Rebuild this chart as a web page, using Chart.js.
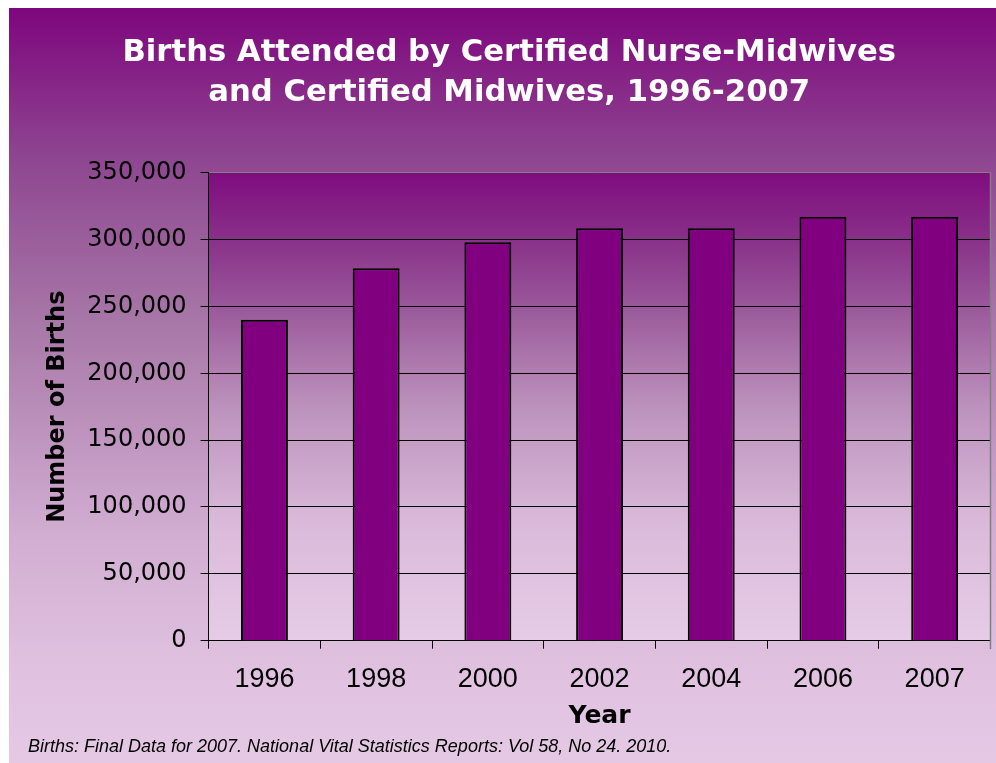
<!DOCTYPE html>
<html>
<head>
<meta charset="utf-8">
<script src="https://cdn.jsdelivr.net/npm/chart.js@4.4.1/dist/chart.umd.min.js"></script>
<style>
  html, body { margin: 0; padding: 0; background: #fff; }
  canvas { display: block; }
</style>
</head>
<body>
<canvas id="c" width="996" height="763"></canvas>
<script>
// ---- data ----
const years = ['1996', '1998', '2000', '2002', '2004', '2006', '2007'];
const births = [240000, 278500, 298000, 308500, 308500, 317000, 317000];
const titleLines = ['Births Attended by Certified Nurse-Midwives', 'and Certified Midwives, 1996-2007'];
const yAxisTitle = 'Number of Births';
const xAxisTitle = 'Year';
const sourceNote = 'Births: Final Data for 2007. National Vital Statistics Reports: Vol 58, No 24. 2010.';
const yMin = 0, yMax = 350000, yStep = 50000;

const bgPlugin = {
  id: 'bgPlugin',
  beforeDraw(chart) {
    const { ctx, width, height, chartArea: a } = chart;
    ctx.save();
    ctx.fillStyle = '#ffffff';
    ctx.fillRect(0, 0, width, height);
    const g = ctx.createLinearGradient(0, 8, 0, height);
    g.addColorStop(0, '#7e067e');
    g.addColorStop(0.2, '#8e4690');
    g.addColorStop(0.42, '#a878a8');
    g.addColorStop(0.7, '#d2aed2');
    g.addColorStop(0.88, '#e0c2e0');
    g.addColorStop(1, '#e4c8e4');
    ctx.fillStyle = g;
    ctx.fillRect(9, 8, width - 9, height - 8);
    const g2 = ctx.createLinearGradient(0, a.top, 0, a.bottom);
    g2.addColorStop(0, '#800c80');
    g2.addColorStop(0.14, '#883088');
    g2.addColorStop(0.3, '#9c5c9c');
    g2.addColorStop(0.5, '#bc92bc');
    g2.addColorStop(0.75, '#dabada');
    g2.addColorStop(1, '#e6cce6');
    ctx.fillStyle = g2;
    ctx.fillRect(a.left, a.top, a.right - a.left, a.bottom - a.top);
    ctx.restore();
  },
  afterDatasetsDraw(chart) {
    const { ctx, chartArea: a } = chart;
    ctx.save();
    ctx.strokeStyle = '#808080';
    ctx.lineWidth = 1.5;
    ctx.beginPath();
    ctx.moveTo(a.right, a.top);
    ctx.lineTo(a.right, a.bottom + 8);
    ctx.stroke();
    ctx.restore();
  }
};

new Chart(document.getElementById('c'), {
  type: 'bar',
  data: {
    labels: years,
    datasets: [{
      data: births,
      backgroundColor: '#800080',
      borderColor: '#000000',
      borderWidth: 2,
      barPercentage: 0.42,
      categoryPercentage: 1.0
    }]
  },
  options: {
    responsive: false,
    devicePixelRatio: 1,
    animation: false,
    layout: { padding: { left: 28, right: 5.5, top: 0, bottom: 0 } },
    plugins: {
      legend: { display: false },
      tooltip: { enabled: false },
      title: {
        display: true,
        text: titleLines,
        color: '#ffffff',
        font: { family: 'DejaVu Sans', size: 30.7, weight: 'bold', lineHeight: 40 / 30.7 },
        padding: { top: 33.5, bottom: 59.2 }
      },
      subtitle: {
        display: true,
        position: 'bottom',
        align: 'start',
        text: sourceNote,
        color: '#000000',
        font: { family: "'Liberation Sans', Arial, sans-serif", size: 18, style: 'italic', lineHeight: 1.2 },
        padding: { top: 0, bottom: 5 }
      }
    },
    scales: {
      x: {
        afterFit(scale) { scale.height = 95.7; },
        grid: { drawOnChartArea: false, drawTicks: true, tickLength: 8, color: '#000000', lineWidth: 1 },
        border: { display: true, color: '#000000', width: 1 },
        ticks: { color: '#000000', padding: 15, font: { family: "'Liberation Sans', Arial, sans-serif", size: 27 } },
        title: {
          display: true, text: xAxisTitle, color: '#000000',
          font: { family: 'DejaVu Sans', size: 25, weight: 'bold', lineHeight: 1.2 },
          padding: { top: 0, bottom: 5.4 }
        }
      },
      y: {
        min: yMin, max: yMax,
        afterFit(scale) { scale.width = 180.6; },
        grid: {
          color: (c) => (c.tick && c.tick.value === yMax ? '#808080' : '#000000'),
          tickColor: '#000000', tickLength: 8, lineWidth: 1
        },
        border: { display: true, color: '#000000', width: 1 },
        ticks: {
          stepSize: yStep, color: '#000000', padding: 14,
          font: { family: 'DejaVu Sans', size: 24 },
          callback: (v) => Number(v).toLocaleString('en-US')
        },
        title: {
          display: true, text: yAxisTitle, color: '#000000',
          font: { family: 'DejaVu Sans', size: 24, weight: 'bold', lineHeight: 1.2 },
          padding: { top: 15.6, bottom: 0 }
        }
      }
    }
  },
  plugins: [bgPlugin]
});
</script>
</body>
</html>
